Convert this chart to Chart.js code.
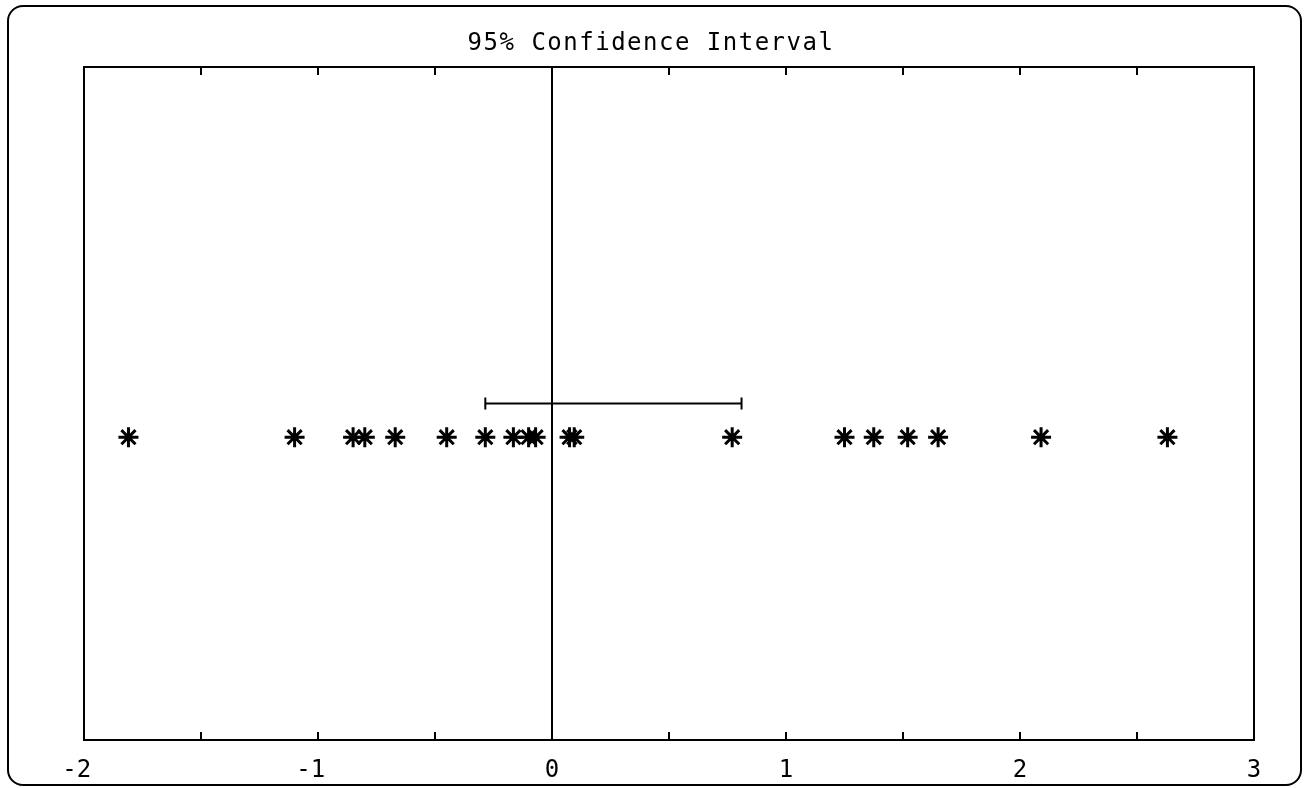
<!DOCTYPE html>
<html>
<head>
<meta charset="utf-8">
<script src="https://cdn.jsdelivr.net/npm/chart.js@4/dist/chart.umd.min.js"></script>
<style>
  html, body { margin: 0; padding: 0; background: #fff; }
  #wrap { position: relative; width: 1307px; height: 788px; overflow: hidden; }
  #frame { position: absolute; left: 7px; top: 5px; width: 1291px; height: 777px;
           border: 2px solid #000; border-radius: 16px; box-sizing: content-box; pointer-events: none; }
  canvas { position: absolute; left: 0; top: 0; }
</style>
</head>
<body>
<div id="wrap">
  <canvas id="c" width="1307" height="788"></canvas>
  <div id="frame"></div>
</div>
<script>
// ---- data ----
const chartTitle = "95% Confidence Interval";
const sampleValues = [-1.81, -1.10, -0.85, -0.80, -0.67, -0.45, -0.285, -0.165, -0.10, -0.07,
                      0.075, 0.095, 0.77, 1.25, 1.375, 1.52, 1.65, 2.09, 2.63];
const sampleLevel = 0.9;
const ciLow = -0.285;
const ciHigh = 0.81;
const ciLevel = 1.0;
const zeroLineX = [0, 0];
const zeroLineY = [0, 2];
const xTickLabels = ["-2", "-1", "0", "1", "2", "3"];
const xMin = -2, xMax = 3, xStep = 0.5;
const yMin = 0, yMax = 2;

const FONT = "'DejaVu Sans Mono', 'Liberation Mono', monospace";

const framePlugin = {
  id: 'framePlugin',
  afterDraw(chart) {
    const ctx = chart.ctx;
    const a = chart.chartArea;
    const xs = chart.scales.x;
    ctx.save();
    ctx.strokeStyle = '#000';
    ctx.lineWidth = 2;
    ctx.strokeRect(a.left, a.top, a.right - a.left, a.bottom - a.top);
    ctx.beginPath();
    xs.ticks.forEach(t => {
      if (t.value <= xMin || t.value >= xMax) return;
      const px = Math.round(xs.getPixelForValue(t.value));
      ctx.moveTo(px, a.top); ctx.lineTo(px, a.top + 8);
      ctx.moveTo(px, a.bottom); ctx.lineTo(px, a.bottom - 8);
    });
    ctx.stroke();
    // title
    ctx.fillStyle = '#000';
    ctx.font = "24px " + FONT;
    ctx.letterSpacing = '1.5px';
    ctx.textAlign = 'center';
    ctx.textBaseline = 'alphabetic';
    ctx.fillText(chartTitle, 651, 50);
    ctx.restore();
  }
};

new Chart(document.getElementById('c'), {
  type: 'scatter',
  data: {
    datasets: [
      {
        label: 'zero',
        data: zeroLineX.map((x, i) => ({ x: x, y: zeroLineY[i] })),
        showLine: true,
        borderColor: '#000',
        borderWidth: 2,
        pointRadius: 0
      },
      {
        label: 'ci',
        data: [{ x: ciLow, y: ciLevel }, { x: ciHigh, y: ciLevel }],
        showLine: true,
        borderColor: '#000',
        borderWidth: 2,
        pointStyle: 'line',
        rotation: 90,
        pointRadius: 6,
        pointBorderWidth: 2,
        pointBorderColor: '#000'
      },
      {
        label: 'samples',
        data: sampleValues.map(v => ({ x: v, y: sampleLevel })),
        showLine: false,
        pointStyle: 'star',
        pointRadius: 10,
        pointBorderWidth: 3,
        pointBorderColor: '#000',
        pointBackgroundColor: '#000'
      }
    ]
  },
  options: {
    responsive: false,
    animation: false,
    events: [],
    layout: { padding: { left: 84, right: 53, top: 67, bottom: 0 } },
    plugins: { legend: { display: false }, title: { display: false }, tooltip: { enabled: false } },
    scales: {
      x: {
        type: 'linear',
        min: xMin, max: xMax,
        grid: { display: false },
        border: { display: false },
        afterFit(scale) { scale.height = 48; },
        ticks: {
          stepSize: xStep,
          autoSkip: false,
          maxRotation: 0,
          padding: 8,
          color: '#000',
          font: { family: FONT, size: 24 },
          callback(v) {
            if (!Number.isInteger(v)) return '';
            const s = xTickLabels[v - xMin];
            return s.startsWith('-') ? s + ' ' : s;
          }
        }
      },
      y: {
        type: 'linear',
        min: yMin, max: yMax,
        display: false
      }
    }
  },
  plugins: [framePlugin]
});
</script>
</body>
</html>
